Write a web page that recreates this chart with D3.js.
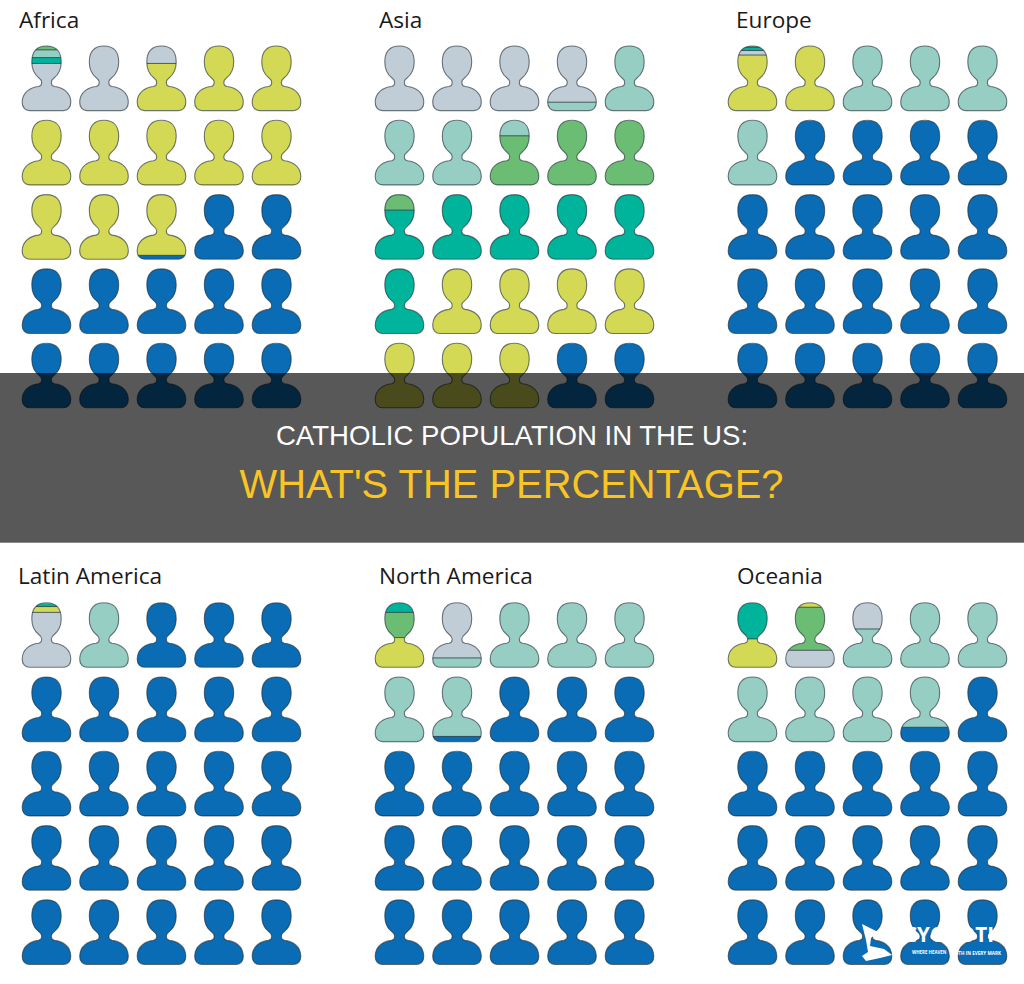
<!DOCTYPE html>
<html><head><meta charset="utf-8">
<script src="https://cdnjs.cloudflare.com/ajax/libs/d3/7.8.5/d3.min.js"></script>
<style>html,body{margin:0;padding:0;background:#fff}svg{display:block}</style>
</head><body><svg id="c" width="1024" height="984"></svg>
<script>
const categories = ["green","sage","teal","slate","yellow","blue"];
const colors = ["#6cbd74","#96cec4","#00b49b","#c0ccd6","#d3d955","#0a6cb5"];
const regions = ["Africa","Asia","Europe","Latin America","North America","Oceania"];
// share of the 25 figures held by each group, listed top to bottom
const africaCats = ["green","sage","teal","slate","yellow","blue"];
const africaVals = [0.06,0.12,0.09,2,10.67,12.06];
const asiaCats = ["slate","sage","green","teal","yellow","blue"];
const asiaVals = [3.87,3.37,3,5.76,7,2];
const europeCats = ["green","teal","slate","yellow","sage","blue"];
const europeVals = [0.02,0.05,0.07,1.86,4,19];
const latinCats = ["green","teal","yellow","slate","sage","blue"];
const latinVals = [0.02,0.04,0.09,0.85,1,23];
const northCats = ["teal","green","yellow","slate","sage","blue"];
const northVals = [0.15,0.39,0.46,0.855,5.065,18.08];
const oceaniaCats = ["teal","yellow","green","slate","sage","blue"];
const oceaniaVals = [0.56,0.51,0.667,0.67,6.371,16.222];
const seriesCats = [africaCats,asiaCats,europeCats,latinCats,northCats,oceaniaCats];
const seriesVals = [africaVals,asiaVals,europeVals,latinVals,northVals,oceaniaVals];
const perRow = [0,1,2,3,4];

const color = d3.scaleOrdinal(categories, colors);
const svg = d3.select("#c");
const defs = svg.append("defs");

// one figure, in its own box: 49 wide, 64.6 tall, origin at top centre
const figurePath = "M0 0C10.5 0 14.7 6.5 14.7 16C14.7 23.5 12 28.5 7.5 32C5.8 33.3 4.9 34.4 4.9 36L4.9 37.2C4.9 39 6 40 8 40.5C16 41.5 24 46 24.3 56C24.5 61.5 21 64.6 17 64.6L-17 64.6C-21 64.6 -24.5 61.5 -24.3 56C-24 46 -16 41.5 -8 40.5C-6 40 -4.9 39 -4.9 37.2L-4.9 36C-4.9 34.4 -5.8 33.3 -7.5 32C-12 28.5 -14.7 23.5 -14.7 16C-14.7 6.5 -10.5 0 0 0Z";
defs.append("clipPath").attr("id","fig").append("path").attr("d",figurePath);

const panelX = [d3.scaleBand(perRow,[17.75,305.25]), d3.scaleBand(perRow,[370.75,658.25]), d3.scaleBand(perRow,[723.75,1011.25])];
const panelYs = [d3.scaleBand(perRow,[46,417.5]), d3.scaleBand(perRow,[602.7,974.2])];
const titleX = [19,379,736, 18,379,737];
const titleY = [27.5,27.5,27.5, 583.5,583.5,583.5];
const unit = d3.scaleLinear([0,1],[0,64.6]);

regions.forEach((name,p)=>{
  const gp = svg.append("g");
  gp.append("text").attr("x",titleX[p]).attr("y",titleY[p]).text(name)
    .attr("font-family","'Open Sans'").attr("font-size",22.6).attr("fill","#1a1a1a");
  const x = panelX[p%3], y = panelYs[p<3?0:1];
  let cum = 0;
  const segs = seriesCats[p].map((c,i)=>{const s={c,a:cum,b:cum+seriesVals[p][i]};cum=s.b;return s;});
  d3.range(25).forEach(i=>{
    const col = i%5, row = Math.floor(i/5);
    const g = gp.append("g").attr("transform",`translate(${x(col)+x.bandwidth()/2},${y(row)})`);
    const inner = g.append("g").attr("clip-path","url(#fig)");
    const parts = segs.filter(s=>s.b>i && s.a<i+1).map(s=>({c:s.c,a:Math.max(s.a,i)-i,b:Math.min(s.b,i+1)-i}));
    inner.selectAll("rect").data(parts).join("rect")
      .attr("x",-26).attr("width",52)
      .attr("y",d=>unit(d.a)).attr("height",d=>unit(d.b)-unit(d.a)+0.3)
      .attr("fill",d=>color(d.c));
    inner.selectAll("line").data(parts.slice(1).filter(d=>d.b-d.a>0.04)).join("line")
      .attr("x1",-26).attr("x2",26).attr("y1",d=>unit(d.a)).attr("y2",d=>unit(d.a))
      .attr("stroke","#22333a").attr("stroke-opacity",0.75).attr("stroke-width",1);
    g.append("path").attr("d",figurePath).attr("fill","none")
      .attr("stroke","#1d2b33").attr("stroke-opacity",0.62).attr("stroke-width",1.1);
  });
});

// watermark
const wm = svg.append("g").attr("fill","#fff").attr("font-family","'Open Sans'");
wm.append("path").attr("d","M862 924L878 932L871 938L870 946L884 949L892 955L880 958L866 961L862 956L868 952L866 940Z");
wm.append("text").attr("x",904).attr("y",942).attr("font-size",21).attr("font-weight",700)
  .attr("textLength",90).attr("lengthAdjust","spacingAndGlyphs").text("CYCHOTI");
wm.append("text").attr("x",912).attr("y",953.5).attr("font-size",4.4).attr("font-weight",700).text("WHERE HEAVEN");
wm.append("text").attr("x",1001).attr("y",955).attr("text-anchor","end").attr("font-size",4.6).attr("font-weight",700).text("TRUTH IN EVERY MARK");

// title band
svg.append("rect").attr("x",0).attr("y",373).attr("width",1024).attr("height",169.7).attr("fill","#000").attr("fill-opacity",0.655);
svg.append("text").attr("x",512).attr("y",445).attr("text-anchor","middle")
  .attr("font-family","'Liberation Sans'").attr("font-size",27.6).attr("fill","#fff")
  .text("CATHOLIC POPULATION IN THE US:");
svg.append("text").attr("x",511.5).attr("y",498).attr("text-anchor","middle")
  .attr("font-family","'Liberation Sans'").attr("font-size",39.9).attr("fill","#f9c424")
  .text("WHAT'S THE PERCENTAGE?");
</script></body></html>
